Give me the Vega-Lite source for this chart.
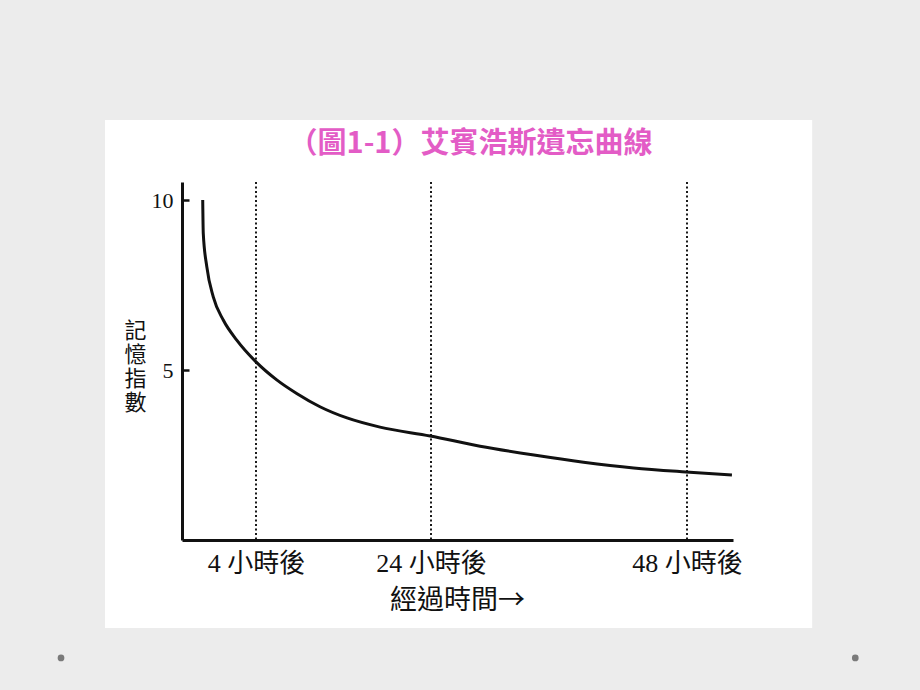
{
  "$schema": "https://vega.github.io/schema/vega-lite/v6.json",
  "width": 551,
  "height": 358,
  "autosize": {"type": "none"},
  "padding": {"left": 182, "top": 182, "right": 187, "bottom": 150},
  "background": "#ececec",
  "title": {
    "text": "（圖1-1）艾賓浩斯遺忘曲線",
    "font": "Noto Sans CJK TC",
    "fontSize": 29,
    "fontWeight": "bold",
    "color": "#e35cc6",
    "anchor": "middle",
    "frame": "group",
    "dx": 13,
    "dy": 63,
    "offset": 24,
    "zindex": 1
  },
  "config": {
    "view": {"stroke": null},
    "axis": {"grid": false, "domainColor": "#111111", "domainWidth": 3, "labelColor": "#111111", "titleColor": "#111111"}
  },
  "datasets": {
    "panel": [{"part": "slide"}],
    "curve": [
      {"hours": 1.12, "memory": 10.0},
      {"hours": 1.15, "memory": 9.02},
      {"hours": 1.34, "memory": 8.04},
      {"hours": 1.69, "memory": 7.15},
      {"hours": 2.23, "memory": 6.47},
      {"hours": 2.96, "memory": 5.88},
      {"hours": 4.0, "memory": 5.24},
      {"hours": 6.37, "memory": 4.71},
      {"hours": 8.65, "memory": 4.31},
      {"hours": 11.31, "memory": 3.92},
      {"hours": 14.4, "memory": 3.59},
      {"hours": 18.17, "memory": 3.32},
      {"hours": 23.9, "memory": 3.06},
      {"hours": 28.6, "memory": 2.76},
      {"hours": 33.65, "memory": 2.5},
      {"hours": 38.3, "memory": 2.29},
      {"hours": 43.0, "memory": 2.12},
      {"hours": 47.9, "memory": 2.0},
      {"hours": 52.2, "memory": 1.91}
    ],
    "checkpoints": [
      {"hours": 4},
      {"hours": 24},
      {"hours": 48}
    ]
  },
  "layer": [
    {
      "data": {"name": "panel"},
      "mark": {"type": "rect", "color": "white"},
      "encoding": {
        "x": {"datum": -4.16, "type": "quantitative", "scale": {"domain": [0, 4, 24, 48, 52.3], "range": [0, 74, 249, 505, 551], "nice": false}},
        "x2": {"datum": 59.7},
        "y": {"datum": 12.35, "type": "quantitative", "scale": {"domain": [0, 10.53], "nice": false}},
        "y2": {"datum": -2.59}
      }
    },
    {
      "data": {"name": "panel"},
      "mark": {"type": "point", "filled": true, "color": "#7a7a7a", "size": 45, "opacity": 1},
      "encoding": {
        "x": {"datum": -6.54, "type": "quantitative"},
        "y": {"datum": -3.47, "type": "quantitative"}
      }
    },
    {
      "data": {"name": "panel"},
      "mark": {"type": "point", "filled": true, "color": "#7a7a7a", "size": 45, "opacity": 1},
      "encoding": {
        "x": {"datum": 63.73, "type": "quantitative"},
        "y": {"datum": -3.47, "type": "quantitative"}
      }
    },
    {
      "data": {"name": "checkpoints"},
      "mark": {"type": "rule", "color": "#1a1a1a", "strokeWidth": 2, "strokeDash": [2, 2.5]},
      "encoding": {
        "x": {"field": "hours", "type": "quantitative"}
      }
    },
    {
      "data": {"name": "curve"},
      "mark": {"type": "line", "color": "#111111", "strokeWidth": 3, "interpolate": "monotone"},
      "encoding": {
        "x": {
          "field": "hours",
          "type": "quantitative",
          "scale": {"domain": [0, 4, 24, 48, 52.3], "range": [0, 74, 249, 505, 551], "nice": false},
          "axis": {
            "zindex": 1,
            "values": [4, 24, 48],
            "labelExpr": "datum.value + ' 小時後'",
            "ticks": false,
            "labelPadding": 10,
            "labelFont": "Liberation Serif, Noto Sans CJK TC",
            "labelFontSize": 26,
            "labelFlush": false,
            "labelOverlap": false,
            "title": "經過時間→",
            "titleFont": "Noto Sans CJK TC",
            "titleFontSize": 27,
            "titleFontWeight": "normal",
            "titleX": 275,
            "titleY": 60,
            "titleAlign": "center",
            "titleBaseline": "middle"
          }
        },
        "y": {
          "field": "memory",
          "type": "quantitative",
          "scale": {"domain": [0, 10.53], "nice": false},
          "axis": {
            "zindex": 1,
            "values": [5, 10],
            "tickSize": -7,
            "tickWidth": 2.5,
            "tickColor": "#111111",
            "labelPadding": 16,
            "labelFont": "Liberation Serif",
            "labelFontSize": 22,
            "title": ["記", "憶", "指", "數"],
            "titleFont": "Noto Sans CJK TC",
            "titleFontSize": 22,
            "titleFontWeight": "normal",
            "titleAngle": 0,
            "titleX": -47,
            "titleY": 138,
            "titleAlign": "center",
            "titleBaseline": "top",
            "titleLineHeight": 24
          }
        }
      }
    }
  ]
}
